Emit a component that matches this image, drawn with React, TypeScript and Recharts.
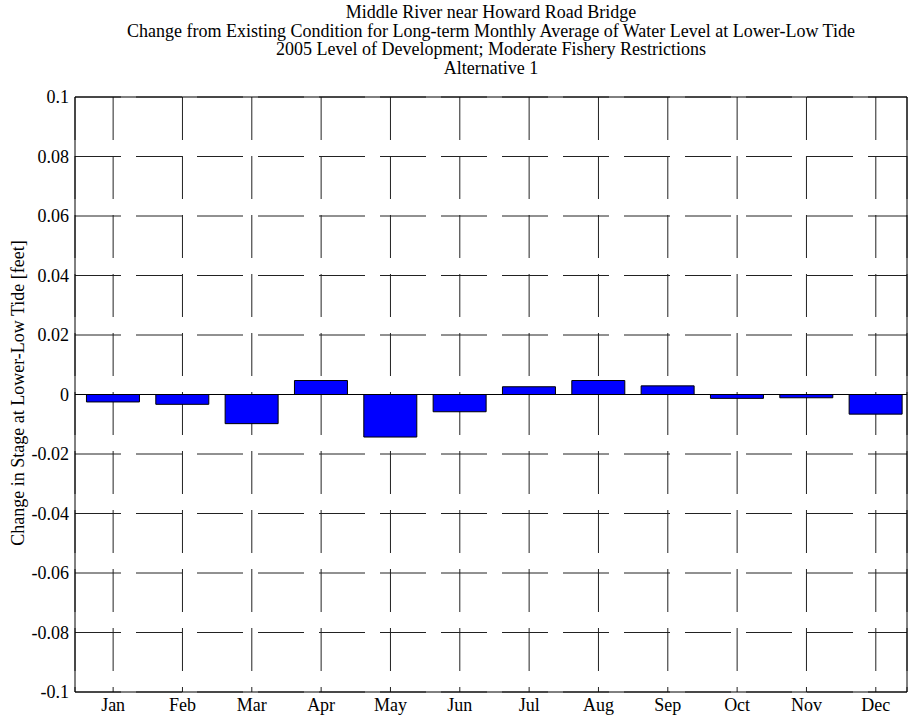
import {
  BarChart,
  Bar,
  XAxis,
  YAxis,
  CartesianGrid,
  ReferenceLine,
  ReferenceArea,
} from "recharts";

const months = ["Jan", "Feb", "Mar", "Apr", "May", "Jun", "Jul", "Aug", "Sep", "Oct", "Nov", "Dec"];
const monthIndex = [1, 2, 3, 4, 5, 6, 7, 8, 9, 10, 11, 12];
const stageChange = [
  -0.0025, -0.0033, -0.0098, 0.0047, -0.0143, -0.0058, 0.0026, 0.0047, 0.0029, -0.0013, -0.0011, -0.0066,
];
const yTicks = [-0.1, -0.08, -0.06, -0.04, -0.02, 0, 0.02, 0.04, 0.06, 0.08, 0.1];

const titleLines = [
  "Middle River near Howard Road Bridge",
  "Change from Existing Condition for Long-term Monthly Average of Water Level at Lower-Low Tide",
  "2005 Level of Development; Moderate Fishery Restrictions",
  "Alternative 1",
];
const yLabel = "Change in Stage at Lower-Low Tide [feet]";

const font = "'Liberation Serif', 'Times New Roman', serif";

const data = monthIndex.map((m, i) => ({ m, value: stageChange[i] }));

const fmtY = (v: number) => (v === 0 ? "0" : String(Number(v.toFixed(2))));

export default function App() {
  return (
    <div style={{ position: "absolute", left: 0, top: 0, width: 911, height: 719, background: "#fff", fontFamily: font }}>
      <BarChart
        width={911}
        height={719}
        data={data}
        margin={{ top: 97, right: 4, bottom: 0, left: 0 }}
      >
        <CartesianGrid horizontal={true} vertical={false} stroke="#222" strokeDasharray="46 15" />
        <CartesianGrid horizontal={false} vertical={true} stroke="#222" strokeDasharray="43 16" />
        <XAxis
          dataKey="m"
          type="number"
          domain={[0.45, 12.45]}
          ticks={monthIndex}
          tickFormatter={(v: number) => months[v - 1]}
          allowDataOverflow
          axisLine={false}
          tickLine={false}
          tickSize={0}
          tickMargin={6}
          height={27}
          tick={{ fill: "#000", fontSize: 18, fontFamily: font }}
        />
        <YAxis
          domain={[-0.1, 0.1]}
          ticks={yTicks}
          tickFormatter={fmtY}
          allowDataOverflow
          axisLine={false}
          tickLine={false}
          tickSize={0}
          tickMargin={6}
          width={75}
          tick={{ fill: "#000", fontSize: 18, fontFamily: font }}
        />
        <Bar dataKey="value" fill="#0000ff" stroke="#000" strokeWidth={1} barSize={53} isAnimationActive={false} />
        <ReferenceLine y={0} stroke="#000" strokeWidth={1} />
        <ReferenceArea x1={0.45} x2={12.45} y1={-0.1} y2={0.1} fill="none" stroke="#000" strokeWidth={1} />
      </BarChart>
      <svg
        width={911}
        height={719}
        style={{ position: "absolute", left: 0, top: 0, pointerEvents: "none" }}
      >
        {titleLines.map((t, i) => (
          <text key={i} x={491} y={18 + i * 18.5} textAnchor="middle" fontSize={18} fontFamily={font} fill="#000">
            {t}
          </text>
        ))}
        <text
          x={0}
          y={0}
          transform="translate(24, 393) rotate(-90)"
          textAnchor="middle"
          fontSize={18}
          fontFamily={font}
          fill="#000"
        >
          {yLabel}
        </text>
      </svg>
    </div>
  );
}
